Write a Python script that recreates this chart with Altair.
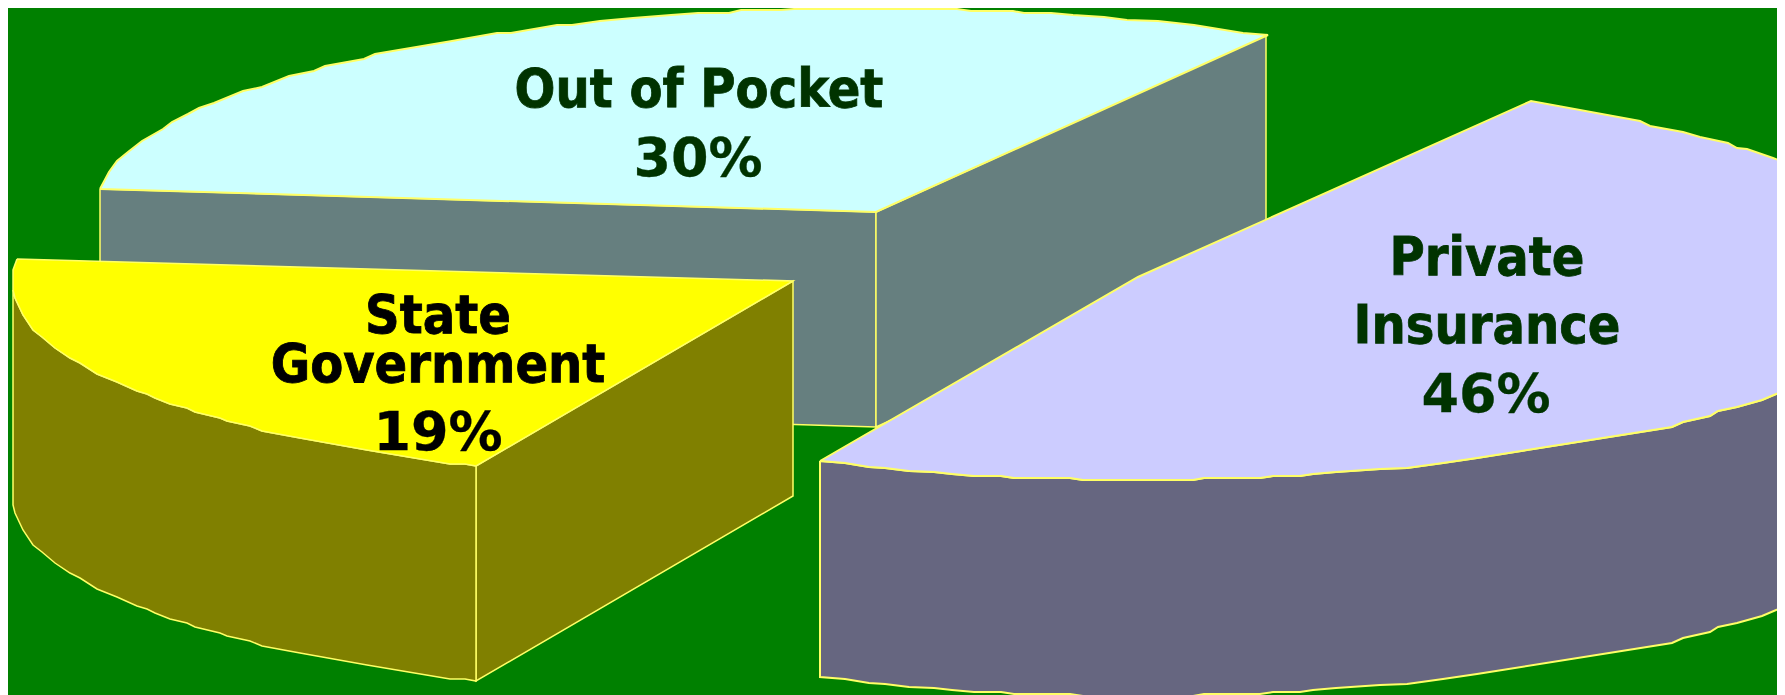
import altair as alt
import pandas as pd

BG = "#008000"
EDGE = "#FFFF66"
WIDTH, HEIGHT = 1769, 687

# ---- Out of Pocket slice
oop_arc_x = [100,109,117,128,142,163,172,188,199,214,243,262,289,314,325,364,375,452,497,511,557,572,600,633,671,698,729,741,781,794,957,971,1013,1024,1051,1073,1104,1127,1158,1194,1243,1268]
oop_arc_y = [189,172,161,152,141,129,122,114,108,103,91,87,76,71,66,59,54,41,33,33,25,25,21,18,15,13,13,10,10,9,9,11,11,13,13,15,17,20,21,25,33,35]
oop_tip = (876, 212)
oop_depth = 215

# ---- State Government slice
state_arc_x = [13,15,23,33,42,55,70,80,97,117,137,147,155,170,187,195,220,227,250,262,300,367,450,465,476]
state_arc_y = [290,298,315,330,337,348,358,363,374,382,391,394,398,404,408,412,418,421,426,431,438,450,464,464,466]
state_top_left_x = [17,13]
state_top_left_y = [259,270]
state_tip = (793, 281)
state_depth = 215

# ---- Private Insurance slice
priv_edge_x = [820,1138,1531,1640,1650,1683,1700,1728,1737,1747,1773,1795]
priv_edge_y = [461,277,101,121,126,132,137,143,148,149,158,166]
priv_arc_x = [820,845,869,885,909,934,952,974,1001,1014,1070,1083,1193,1204,1260,1273,1300,1313,1336,1380,1407,1443,1477,1672,1683,1710,1718,1737,1762,1795]
priv_arc_y = [461,463,467,468,471,472,474,476,476,478,478,480,480,478,478,476,476,474,472,469,468,463,458,427,422,416,411,407,400,386]
priv_depth = 216

# ---- Labels
word_text = ["Out of Pocket", "State", "Government", "Private", "Insurance"]
word_x = [699, 438, 438, 1487, 1487]
word_y = [107, 333, 382, 275, 343]
word_color = ["#003300", "#000000", "#000000", "#003300", "#003300"]
pct_text = ["30%", "19%", "46%"]
pct_x = [698, 438, 1486]
pct_y = [176, 450, 412]
pct_color = ["#003300", "#000000", "#003300"]

# Domains are the reference's pixel coordinates visible inside the page's 8px margin.
x_scale = alt.Scale(domain=[8, 1777], nice=False, zero=False)
y_scale = alt.Scale(domain=[695, 8], nice=False, zero=False)


def shape(xs, ys, fill, width=1.5):
    xs = list(xs) + [xs[0]]
    ys = list(ys) + [ys[0]]
    df = pd.DataFrame({"x": xs, "y": ys, "i": range(len(xs))})
    return alt.Chart(df).mark_line(
        fill=fill, stroke=EDGE, strokeWidth=width, clip=True, interpolate="linear"
    ).encode(
        x=alt.X("x:Q", scale=x_scale, axis=None),
        y=alt.Y("y:Q", scale=y_scale, axis=None),
        order="i:Q",
    )


def text_layer(texts, xs, ys, colors, font, size, stroke_width):
    df = pd.DataFrame({"t": texts, "x": xs, "y": ys, "c": colors})
    return alt.Chart(df).mark_text(
        font=font, fontWeight="bold", fontSize=size,
        align="center", baseline="alphabetic", strokeWidth=stroke_width,
    ).encode(
        x=alt.X("x:Q", scale=x_scale, axis=None),
        y=alt.Y("y:Q", scale=y_scale, axis=None),
        text="t:N",
        color=alt.Color("c:N", scale=None, legend=None),
        stroke=alt.Stroke("c:N", scale=None, legend=None),
    )


layers = []

# Out of Pocket sides and top
layers.append(shape(
    [oop_arc_x[0], oop_tip[0], oop_tip[0], oop_arc_x[0]],
    [oop_arc_y[0], oop_tip[1], oop_tip[1] + oop_depth, oop_arc_y[0] + oop_depth],
    "#667F7F", 1.5))
layers.append(shape(
    [oop_tip[0], oop_arc_x[-1] - 2, oop_arc_x[-1] - 2, oop_tip[0]],
    [oop_tip[1], oop_arc_y[-1], oop_arc_y[-1] + oop_depth, oop_tip[1] + oop_depth],
    "#667F7F", 1.5))
layers.append(shape(oop_arc_x + [oop_tip[0]], oop_arc_y + [oop_tip[1]], "#CCFFFF", 2))

# State Government sides and top
layers.append(shape(
    [state_arc_x[-1], state_tip[0], state_tip[0], state_arc_x[-1]],
    [state_arc_y[-1], state_tip[1], state_tip[1] + state_depth, state_arc_y[-1] + state_depth],
    "#808000", 1.5))
layers.append(shape(
    state_arc_x + state_arc_x[::-1],
    state_arc_y + [v + state_depth for v in state_arc_y[::-1]],
    "#808000", 1.5))
layers.append(shape(
    state_top_left_x + state_arc_x + [state_tip[0]],
    state_top_left_y + state_arc_y + [state_tip[1]],
    "#FFFF00", 1.5))

# Private Insurance side and top
layers.append(shape(
    priv_arc_x + priv_arc_x[::-1],
    priv_arc_y + [v + priv_depth for v in priv_arc_y[::-1]],
    "#666680", 2))
layers.append(shape(
    priv_edge_x + priv_arc_x[::-1][:-1],
    priv_edge_y + priv_arc_y[::-1][:-1],
    "#CCCCFF", 2))

layers.append(text_layer(word_text, word_x, word_y, word_color, "DejaVu Sans Condensed", 53.5, 0.8))
layers.append(text_layer(pct_text, pct_x, pct_y, pct_color, "DejaVu Sans", 54, 0.3))

chart = alt.layer(*layers).properties(
    width=WIDTH, height=HEIGHT, background=BG, padding=0,
    autosize=alt.AutoSizeParams(type="none"),
).configure_view(stroke=None)

chart.save("out.html", embed_options={"renderer": "svg", "actions": False})
